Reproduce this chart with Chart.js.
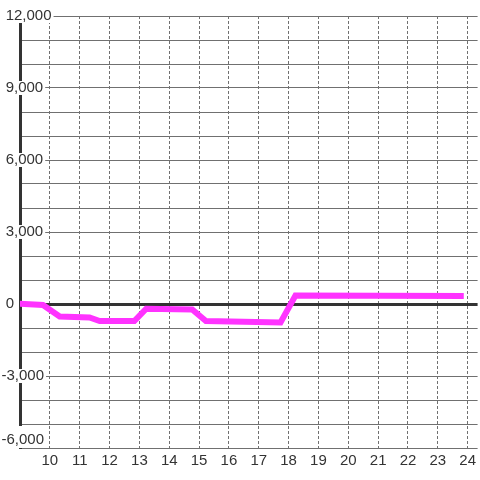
<!DOCTYPE html>
<html>
<head>
<meta charset="utf-8">
<script src="https://cdn.jsdelivr.net/npm/chart.js@4.4.0/dist/chart.umd.min.js"></script>
<style>
  body { margin: 0; background: #fff; }
  canvas { display: block; }
</style>
</head>
<body>
<canvas id="chart" width="480" height="480"></canvas>
<script>
// data (x in axis units, y in value units)
const xValues = [8.9, 9.77, 10.33, 11.33, 11.67, 12.83, 13.23, 14.77, 15.23, 17.73, 18.23, 23.87];
const yValues = [20, -40, -520, -560, -710, -710, -195, -230, -710, -770, 350, 330];
const xTickLabels = [10, 11, 12, 13, 14, 15, 16, 17, 18, 19, 20, 21, 22, 23, 24];
const yTickLabels = [-3000, 0, 3000, 6000, 9000, 12000];
const yBottomLabel = [-6000];

const yMin = -6000, yMax = 12000;
const points = xValues.map((x, i) => ({ x: x, y: yValues[i] }));
const font = { family: '"Liberation Sans", Arial, sans-serif', size: 15 };

// positive numbers get a leading space so the digits line up like the picture
const fmt = v => (v >= 0 ? ' ' : '') + v.toLocaleString('en-US');

// the bottom label sits 8px above its grid line: a helper axis shifted by 8px
const shift = 8 * (yMax - yMin) / 432;

new Chart(document.getElementById('chart').getContext('2d'), {
    type: 'line',
    data: {
        datasets: [{
            data: points,
            borderColor: '#ff33ff',
            borderWidth: 6,
            pointRadius: 0,
            tension: 0,
            fill: false
        }]
    },
    options: {
        responsive: false,
        animation: false,
        layout: { padding: { left: 5, top: 16, right: 0, bottom: 0 } },
        plugins: { legend: { display: false }, tooltip: { enabled: false } },
        scales: {
            x: {
                type: 'linear',
                min: 9,
                max: 24.333,
                afterFit: scale => { scale.height = 32; },
                grid: {
                    color: '#707070',
                    lineWidth: 1,
                    drawTicks: false
                },
                border: { display: false, dash: [3, 2] },
                ticks: {
                    stepSize: 1,
                    includeBounds: false,
                    autoSkip: false,
                    padding: 4,
                    color: '#333',
                    font: font,
                    maxRotation: 0,
                    callback: v => xTickLabels.includes(v) ? String(v) : ''
                }
            },
            y: {
                min: yMin,
                max: yMax,
                afterFit: scale => { scale.width = 15; },
                border: { display: true, color: '#333', width: 3 },
                grid: {
                    color: ctx => ctx.tick && ctx.tick.value === 0 ? '#333' : '#707070',
                    lineWidth: ctx => ctx.tick && ctx.tick.value === 0 ? 3 : 1,
                    drawTicks: false
                },
                ticks: {
                    stepSize: 1000,
                    autoSkip: false,
                    mirror: true,
                    crossAlign: 'near',
                    padding: -18.5,
                    color: '#333',
                    font: font,
                    showLabelBackdrop: true,
                    backdropColor: '#fff',
                    backdropPadding: { top: -2, bottom: -2, left: 0, right: 2 },
                    callback: v => yTickLabels.includes(v) ? fmt(v) : ''
                }
            },
            y2: {
                type: 'linear',
                position: 'left',
                min: yMin - shift,
                max: yMax - shift,
                afterFit: scale => { scale.width = 0; },
                afterBuildTicks: scale => { scale.ticks = yBottomLabel.map(v => ({ value: v })); },
                border: { display: false },
                grid: { display: false, drawTicks: false },
                ticks: {
                    z: 1,
                    autoSkip: false,
                    mirror: true,
                    crossAlign: 'near',
                    padding: -3.5,
                    color: '#333',
                    font: font,
                    showLabelBackdrop: true,
                    backdropColor: '#fff',
                    backdropPadding: { top: 5, bottom: -1, left: 0, right: 2 },
                    callback: v => fmt(v)
                }
            }
        }
    }
});
</script>
</body>
</html>
